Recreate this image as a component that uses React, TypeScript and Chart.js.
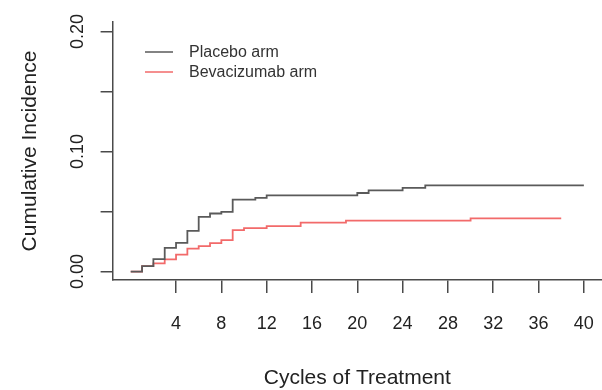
import React, { useEffect, useRef } from "react";
import { Chart, registerables } from "chart.js";

Chart.register(...registerables);

const placeboTimes = [0, 1, 2, 3, 4, 5, 6, 7, 8, 9, 11, 12, 20, 21, 24, 26, 40];
const placeboCI = [0, 0.0045, 0.0104, 0.0197, 0.024, 0.034, 0.0456, 0.0484, 0.0498, 0.06, 0.0614, 0.0636, 0.0655, 0.0677, 0.0697, 0.0719, 0.0719];
const bevTimes = [0, 1, 2, 3, 4, 5, 6, 7, 8, 9, 10, 12, 15, 19, 30, 38];
const bevCI = [0, 0.0045, 0.0068, 0.0102, 0.0142, 0.0192, 0.0212, 0.0238, 0.0262, 0.0346, 0.0363, 0.0379, 0.0408, 0.0425, 0.0443, 0.0443];

const xTicks = [4, 8, 12, 16, 20, 24, 28, 32, 36, 40];
const yTicks = [0, 0.05, 0.1, 0.15, 0.2];
const yLabelled = ["0.00", "", "0.10", "", "0.20"];
const seriesLabels = ["Placebo arm", "Bevacizumab arm"];
const seriesColors = ["#5a5a5a", "#f26a6a"];

const FONT = "'Liberation Sans', Arial, Helvetica, sans-serif";
const AXIS = "#4a4a4a";
const TEXT = "#222222";

const overlay = {
  id: "overlay",
  afterDraw(chart: any) {
    const ctx = chart.ctx;
    const ys = chart.scales.y;
    ctx.save();
    ctx.fillStyle = TEXT;
    ctx.font = `18px ${FONT}`;
    ctx.textAlign = "center";
    ctx.textBaseline = "middle";
    yTicks.forEach((v, i) => {
      const lab = yLabelled[i];
      if (!lab) return;
      const py = ys.getPixelForValue(v);
      ctx.save();
      ctx.translate(78, py);
      ctx.rotate(-Math.PI / 2);
      ctx.fillText(lab, 0, 0);
      ctx.restore();
    });
    // legend
    ctx.font = `16px ${FONT}`;
    ctx.textAlign = "left";
    chart.data.datasets.forEach((ds: any, i: number) => {
      const yy = 52 + i * 20;
      ctx.strokeStyle = ds.borderColor;
      ctx.lineWidth = 1.5;
      ctx.beginPath();
      ctx.moveTo(145, yy);
      ctx.lineTo(173, yy);
      ctx.stroke();
      ctx.fillStyle = "#333333";
      ctx.fillText(ds.label, 189, yy + 1);
    });
    ctx.restore();
  },
};

export default function App() {
  const ref = useRef<HTMLCanvasElement | null>(null);
  useEffect(() => {
    if (!ref.current) return;
    const chart = new Chart(ref.current, {
      type: "line",
      data: {
        datasets: [
          {
            label: seriesLabels[0],
            data: placeboTimes.map((t, i) => ({ x: t, y: placeboCI[i] })),
            borderColor: seriesColors[0],
            borderWidth: 1.8,
            pointRadius: 0,
            stepped: true,
            fill: false,
          },
          {
            label: seriesLabels[1],
            data: bevTimes.map((t, i) => ({ x: t, y: bevCI[i] })),
            borderColor: seriesColors[1],
            borderWidth: 1.8,
            pointRadius: 0,
            stepped: true,
            fill: false,
          },
        ],
      },
      options: {
        animation: false,
        responsive: false,
        maintainAspectRatio: false,
        layout: { padding: { top: 22, right: 0, left: 0, bottom: 0 } },
        plugins: { legend: { display: false }, tooltip: { enabled: false } },
        scales: {
          x: {
            type: "linear",
            min: -1.6,
            max: 41.6,
            afterBuildTicks: (s: any) => {
              s.ticks = xTicks.map((v) => ({ value: v }));
            },
            afterFit: (s: any) => {
              s.height = 110;
              s.paddingLeft = 0;
              s.paddingRight = 0;
            },
            grid: {
              drawOnChartArea: false,
              drawTicks: true,
              tickLength: 13,
              color: AXIS,
              lineWidth: 1.5,
            },
            border: { display: true, color: AXIS, width: 1.5 },
            ticks: {
              color: TEXT,
              font: { family: FONT, size: 18 },
              padding: 20,
              maxRotation: 0,
              autoSkip: false,
              callback: (v: any) => String(v),
            },
            title: {
              display: true,
              text: "Cycles of Treatment",
              color: TEXT,
              font: { family: FONT, size: 21 },
              padding: { top: 0, bottom: -1 },
            },
          },
          y: {
            type: "linear",
            min: -0.007,
            max: 0.208,
            afterBuildTicks: (s: any) => {
              s.ticks = yTicks.map((v) => ({ value: v }));
            },
            afterFit: (s: any) => {
              s.width = 112.6;
              s.paddingTop = 0;
              s.paddingBottom = 0;
            },
            grid: {
              drawOnChartArea: false,
              drawTicks: true,
              tickLength: 12,
              color: AXIS,
              lineWidth: 1.5,
            },
            border: { display: true, color: AXIS, width: 1.5 },
            ticks: {
              color: TEXT,
              font: { family: FONT, size: 18 },
              autoSkip: false,
              callback: () => "",
            },
            title: {
              display: true,
              text: "Cumulative Incidence",
              color: TEXT,
              font: { family: FONT, size: 21 },
              padding: { top: 18, bottom: 0 },
            },
          },
        },
      },
      plugins: [overlay],
    });
    return () => chart.destroy();
  }, []);
  return (
    <div style={{ position: "fixed", left: 0, top: 0, width: 602, height: 390, background: "#fff" }}>
      <canvas ref={ref} width={602} height={390} style={{ width: 602, height: 390, display: "block" }} />
    </div>
  );
}
